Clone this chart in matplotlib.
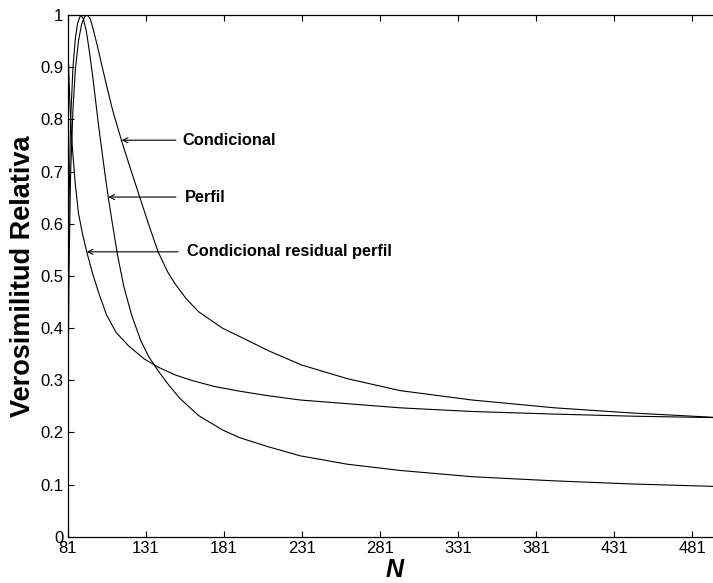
import matplotlib
matplotlib.use("Agg")
import matplotlib.pyplot as plt

plt.rcParams['font.family'] = ['Liberation Sans', 'DejaVu Sans']

# Relative likelihood curves over the population size N
n_cond = [81, 81.5, 82, 83, 84.5, 86, 88, 90, 92, 93.7, 95.5, 97.5, 100, 103, 106,
          110, 115.7, 121, 127, 133, 139, 145, 150, 157, 165, 180, 191, 210, 231,
          260, 294, 340, 393, 443, 500]
cond = [0.08, 0.35, 0.52, 0.70, 0.82, 0.895, 0.95, 0.982, 0.997, 1.0, 0.993, 0.972,
        0.942, 0.903, 0.865, 0.816, 0.758, 0.708, 0.653, 0.598, 0.546, 0.508, 0.484,
        0.456, 0.431, 0.400, 0.384, 0.356, 0.329, 0.303, 0.280, 0.262, 0.247, 0.237,
        0.228]

n_perf = [81, 81.5, 82, 83, 84.5, 86, 87.5, 89.4, 91, 93, 95, 97, 99, 101, 103, 105,
          107, 110, 113, 117, 122, 128, 133, 139, 146, 153, 165, 180, 191, 210, 230,
          260, 294, 340, 393, 443, 500]
perf = [0.12, 0.45, 0.65, 0.80, 0.90, 0.955, 0.985, 1.0, 0.993, 0.97, 0.93, 0.885,
        0.835, 0.785, 0.74, 0.695, 0.652, 0.595, 0.54, 0.48, 0.425, 0.375, 0.345,
        0.318, 0.29, 0.265, 0.232, 0.205, 0.19, 0.172, 0.155, 0.139, 0.127, 0.115,
        0.107, 0.101, 0.096]

n_resid = [81, 81.5, 82.5, 84, 86, 88, 90.5, 93.3, 97, 101, 106, 112, 120, 130, 139,
           150, 160, 175, 191, 210, 230, 260, 294, 340, 393, 443, 500]
resid = [1.0, 0.92, 0.83, 0.75, 0.675, 0.62, 0.582, 0.546, 0.505, 0.467, 0.425, 0.392,
         0.366, 0.341, 0.325, 0.31, 0.30, 0.288, 0.279, 0.27, 0.262, 0.255, 0.247,
         0.24, 0.235, 0.231, 0.228]

x_ticks = [81, 131, 181, 231, 281, 331, 381, 431, 481]
y_ticks = [0, 0.1, 0.2, 0.3, 0.4, 0.5, 0.6, 0.7, 0.8, 0.9, 1]
y_ticklabels = ['0', '0.1', '0.2', '0.3', '0.4', '0.5', '0.6', '0.7', '0.8', '0.9', '1']

# (label, arrow tip N, arrow tip value, arrow tail N, text N)
notes = [
    ('Condicional', 115.7, 0.760, 150.4, 154.7),
    ('Perfil', 107.1, 0.651, 150.4, 156.2),
    ('Condicional residual perfil', 93.3, 0.546, 151.7, 157.3),
]

fig = plt.figure(figsize=(7.13, 5.83), dpi=100)
ax = fig.add_axes([0.0947, 0.0794, 0.918, 0.8949])

for xs, ys in ((n_cond, cond), (n_perf, perf), (n_resid, resid)):
    ax.plot(xs, ys, color='black', lw=0.8)

for label, xt, yt, xa, xtxt in notes:
    ax.annotate('', xy=(xt, yt), xytext=(xa, yt),
                arrowprops=dict(arrowstyle='->', lw=0.8, color='black',
                                shrinkA=0, shrinkB=0, mutation_scale=9))
    ax.text(xtxt, yt, label, fontsize=11.8, fontweight='bold', va='center', ha='left')

ax.set_xlim(81, 500)
ax.set_ylim(0, 1)
ax.set_xticks(x_ticks)
ax.set_xticklabels([str(t) for t in x_ticks])
ax.set_yticks(y_ticks)
ax.set_yticklabels(y_ticklabels)
ax.tick_params(direction='in', length=4.5, width=0.8, labelsize=12, top=True,
               right=False, pad=3)
for s in ax.spines.values():
    s.set_linewidth(0.9)

ax.set_xlabel('N', fontsize=18, fontweight='bold', fontstyle='italic', labelpad=1.5)
ax.set_ylabel('Verosimilitud Relativa', fontsize=19.5, fontweight='bold', labelpad=3)

fig.savefig('out.png', dpi=100)
